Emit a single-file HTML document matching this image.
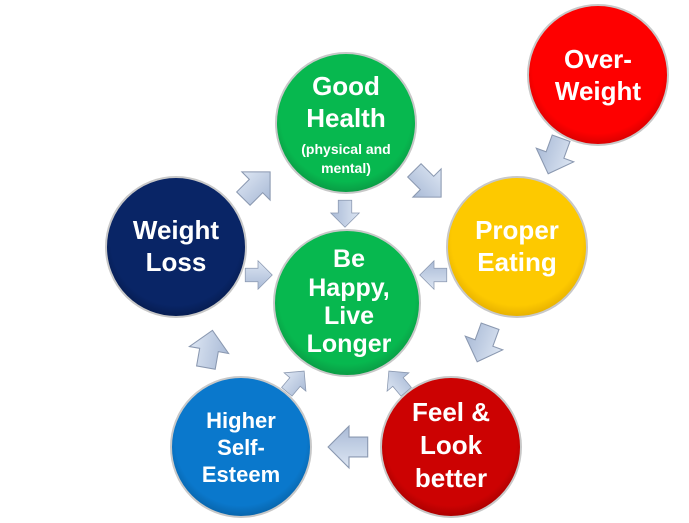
<!DOCTYPE html>
<html><head><meta charset="utf-8"><style>
html,body{margin:0;padding:0;background:#fff;}
svg{display:block;}
text{font-family:"Liberation Sans",sans-serif;font-weight:bold;fill:#fff;text-anchor:middle;}
</style></head><body>
<svg width="689" height="523" viewBox="0 0 689 523" xmlns="http://www.w3.org/2000/svg">
<defs>
<radialGradient id="gG" cx="50%" cy="45%" r="55%"><stop offset="0.85" stop-color="#07b84f"/><stop offset="1" stop-color="#0a9a44"/></radialGradient>
<radialGradient id="gR" cx="50%" cy="45%" r="55%"><stop offset="0.85" stop-color="#fe0000"/><stop offset="1" stop-color="#d80000"/></radialGradient>
<radialGradient id="gY" cx="50%" cy="45%" r="55%"><stop offset="0.85" stop-color="#fdc900"/><stop offset="1" stop-color="#e6b000"/></radialGradient>
<radialGradient id="gN" cx="50%" cy="45%" r="55%"><stop offset="0.85" stop-color="#092566"/><stop offset="1" stop-color="#061c50"/></radialGradient>
<radialGradient id="gB" cx="50%" cy="45%" r="55%"><stop offset="0.85" stop-color="#0a78cc"/><stop offset="1" stop-color="#0864aa"/></radialGradient>
<radialGradient id="gD" cx="50%" cy="45%" r="55%"><stop offset="0.85" stop-color="#cc0202"/><stop offset="1" stop-color="#aa0000"/></radialGradient>
<linearGradient id="ar" x1="0" y1="0" x2="0" y2="1"><stop offset="0" stop-color="#dde6f3"/><stop offset="1" stop-color="#a9bad6"/></linearGradient>
<path id="arrow" d="M-17,-9 L0,-9 L0,-19 L19,0 L0,19 L0,9 L-17,9 Z" fill="url(#ar)" stroke="#8a98b0" stroke-width="1"/>
</defs>

<g stroke="#c8c8c8" stroke-width="2">
<circle cx="346" cy="123" r="70" fill="url(#gG)"/>
<circle cx="598" cy="75" r="70" fill="url(#gR)"/>
<circle cx="517" cy="247" r="70" fill="url(#gY)"/>
<circle cx="176" cy="247" r="70" fill="url(#gN)"/>
<circle cx="347" cy="303" r="73" fill="url(#gG)"/>
<circle cx="241" cy="447" r="70" fill="url(#gB)"/>
<circle cx="451" cy="447" r="70" fill="url(#gD)"/>
</g>

<use href="#arrow" transform="translate(427,183) rotate(45) scale(1.05)"/>
<use href="#arrow" transform="translate(555,155) rotate(110) scale(1.05)"/>
<use href="#arrow" transform="translate(345,213) rotate(90) scale(0.75)"/>
<use href="#arrow" transform="translate(434,275) rotate(180) scale(0.75)"/>
<use href="#arrow" transform="translate(258,275) rotate(0) scale(0.75)"/>
<use href="#arrow" transform="translate(484,343) rotate(110) scale(1.05)"/>
<use href="#arrow" transform="translate(398,382) rotate(-130) scale(0.75)"/>
<use href="#arrow" transform="translate(349,447) rotate(180) scale(1.1)"/>
<use href="#arrow" transform="translate(295,382) rotate(-50) scale(0.75)"/>
<use href="#arrow" transform="translate(209,350) rotate(-80) scale(1.05)"/>
<use href="#arrow" transform="translate(256,186) rotate(-45) scale(1.05)"/>

<text x="346" y="95" font-size="26">Good</text>
<text x="346" y="127" font-size="26">Health</text>
<text x="346" y="154" font-size="14">(physical and</text>
<text x="346" y="173" font-size="14">mental)</text>

<text x="598" y="68" font-size="26">Over-</text>
<text x="598" y="100" font-size="26">Weight</text>

<text x="176" y="239" font-size="26">Weight</text>
<text x="176" y="271" font-size="26">Loss</text>

<text x="517" y="239" font-size="26">Proper</text>
<text x="517" y="271" font-size="26">Eating</text>

<text x="349" y="267" font-size="25">Be</text>
<text x="349" y="296" font-size="25">Happy,</text>
<text x="349" y="324" font-size="25">Live</text>
<text x="349" y="352" font-size="25">Longer</text>

<text x="241" y="428" font-size="22">Higher</text>
<text x="241" y="455" font-size="22">Self-</text>
<text x="241" y="482" font-size="22">Esteem</text>

<text x="451" y="421" font-size="26">Feel &amp;</text>
<text x="451" y="454" font-size="26">Look</text>
<text x="451" y="487" font-size="26">better</text>
</svg>
</body></html>
